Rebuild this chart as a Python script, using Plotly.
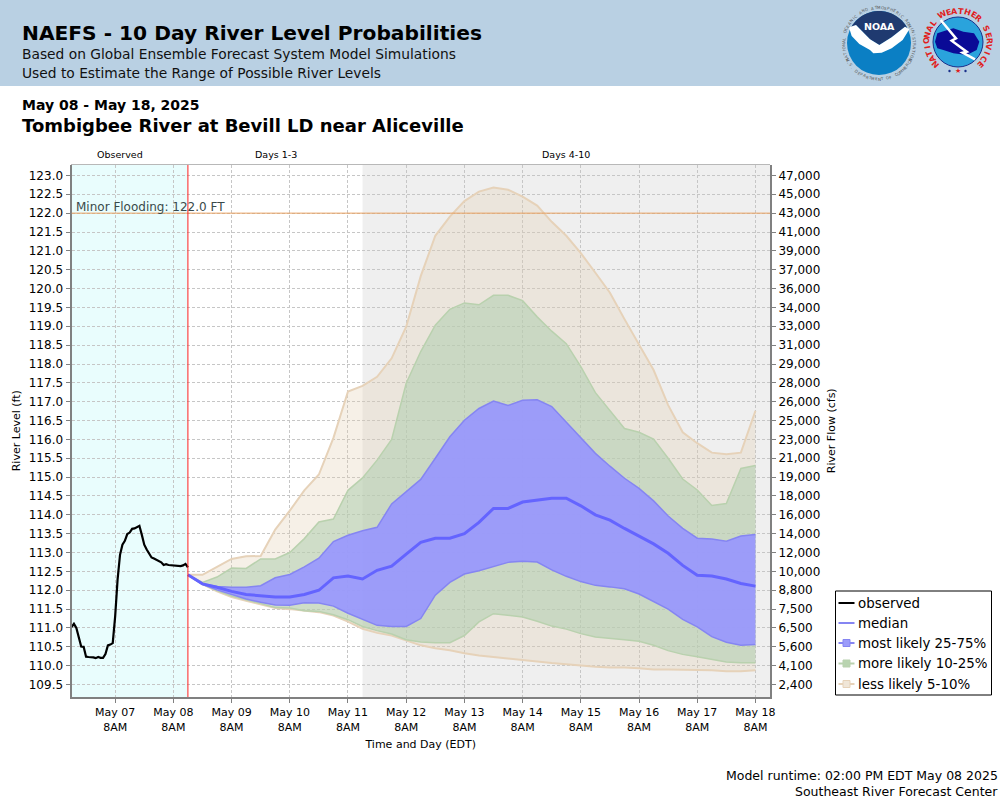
import math

import pandas as pd
from plotly import graph_objs as go

FONT = 'DejaVu Sans'

# river level readings, ft
observed = [111.02, 111.11, 111.0, 110.77, 110.51, 110.5, 110.24, 110.23, 110.23, 110.22,
            110.2, 110.23, 110.21, 110.21, 110.31, 110.54, 110.56, 110.6, 111.31, 112.28,
            112.94, 113.21, 113.31, 113.49, 113.53, 113.63, 113.64, 113.67, 113.71, 113.47,
            113.21, 113.08, 112.96, 112.87, 112.84, 112.8, 112.77, 112.74, 112.67, 112.69,
            112.67, 112.66, 112.66, 112.65, 112.63, 112.64, 112.66, 112.7, 112.61]

median = [112.41, 112.17, 112.08, 111.97, 111.89, 111.85, 111.82, 111.82, 111.89, 112.0,
          112.33, 112.38, 112.3, 112.53, 112.64, 112.96, 113.27, 113.38, 113.38, 113.5,
          113.8, 114.17, 114.17, 114.34, 114.38, 114.44, 114.44, 114.24, 114.0, 113.86,
          113.64, 113.44, 113.23, 112.98, 112.66, 112.4, 112.38, 112.3, 112.18, 112.11]

p75 = [112.41, 112.17, 112.1, 112.08, 112.08, 112.12, 112.33, 112.42, 112.62, 112.85,
       113.29, 113.46, 113.58, 113.67, 114.29, 114.62, 114.94, 115.5, 116.07, 116.51,
       116.82, 117.02, 116.9, 117.04, 117.05, 116.87, 116.45, 116.03, 115.63, 115.29,
       114.97, 114.7, 114.37, 113.97, 113.64, 113.38, 113.36, 113.3, 113.44, 113.48]

p25 = [112.41, 112.16, 112.01, 111.88, 111.77, 111.68, 111.61, 111.6, 111.67, 111.66,
       111.58, 111.39, 111.23, 111.07, 111.04, 111.04, 111.25, 111.87, 112.21, 112.43,
       112.52, 112.62, 112.74, 112.77, 112.75, 112.54, 112.37, 112.23, 112.13, 112.09,
       112.04, 111.9, 111.7, 111.5, 111.23, 111.03, 110.77, 110.62, 110.54, 110.56]

p90 = [112.41, 112.21, 112.35, 112.59, 112.58, 112.83, 112.83, 113.0, 113.37, 113.81,
       113.89, 114.65, 114.98, 115.45, 116.0, 117.49, 118.33, 119.03, 119.45, 119.62,
       119.57, 119.82, 119.82, 119.68, 119.25, 118.87, 118.54, 117.93, 117.24, 116.75,
       116.29, 116.19, 116.01, 115.5, 114.95, 114.66, 114.25, 114.3, 115.23, 115.31]

p10 = [112.41, 112.16, 111.99, 111.85, 111.75, 111.64, 111.54, 111.53, 111.46, 111.44,
       111.35, 111.22, 111.04, 110.93, 110.84, 110.69, 110.63, 110.61, 110.61, 110.8,
       111.16, 111.38, 111.34, 111.29, 111.18, 111.05, 110.97, 110.85, 110.76, 110.73,
       110.69, 110.65, 110.54, 110.4, 110.3, 110.24, 110.16, 110.1, 110.08, 110.08]

p95 = [112.41, 112.41, 112.62, 112.83, 112.9, 112.91, 113.61, 114.11, 114.65, 115.07,
       116.04, 117.27, 117.42, 117.66, 118.15, 118.99, 120.33, 121.4, 121.91, 122.32,
       122.57, 122.68, 122.62, 122.44, 122.2, 121.77, 121.4, 120.94, 120.42, 119.89,
       119.19, 118.5, 117.84, 116.91, 116.19, 115.9, 115.65, 115.61, 115.65, 116.76]

p5 = [112.41, 112.16, 111.97, 111.82, 111.72, 111.62, 111.53, 111.5, 111.46, 111.42,
      111.33, 111.17, 110.98, 110.87, 110.8, 110.67, 110.54, 110.46, 110.41, 110.33,
      110.27, 110.23, 110.19, 110.14, 110.09, 110.07, 110.04, 110.0, 109.97, 109.95,
      109.95, 109.93, 109.9, 109.9, 109.89, 109.88, 109.88, 109.85, 109.85, 109.88]

stage_ticks = [123.0, 122.5, 122.0, 121.5, 121.0, 120.5, 120.0, 119.5, 119.0, 118.5,
               118.0, 117.5, 117.0, 116.5, 116.0, 115.5, 115.0, 114.5, 114.0, 113.5,
               113.0, 112.5, 112.0, 111.5, 111.0, 110.5, 110.0, 109.5]
flow_ticks = ['47,000', '45,000', '43,000', '41,000', '39,000', '37,000', '36,000', '34,000',
              '33,000', '31,000', '29,000', '28,000', '26,000', '25,000', '23,000', '21,000',
              '19,000', '18,000', '16,000', '14,000', '12,000', '10,000', '8,800', '7,500',
              '6,500', '5,600', '4,100', '2,400']
day_ticks = ['May 07', 'May 08', 'May 09', 'May 10', 'May 11', 'May 12',
             'May 13', 'May 14', 'May 15', 'May 16', 'May 17', 'May 18']

flood_stage = 122.0
now = '2025-05-08 14:00'
days4_start = '2025-05-11 14:00'
x_start = '2025-05-06 14:00'
x_end = '2025-05-18 14:00'

obs_times = pd.date_range(x_start, periods=len(observed), freq='h')
fc_times = pd.date_range(now, periods=len(median), freq='6h')
day_vals = pd.date_range('2025-05-07 08:00', periods=len(day_ticks), freq='D')


def px(x):
    return x / 1000


def py(y):
    return 1 - y / 800


def note(x, y, text, size=12, color='black', bold=False, xanchor='left', angle=0):
    if bold:
        text = '<b>' + text + '</b>'
    return dict(xref='paper', yref='paper', x=px(x), y=py(y), text=text, showarrow=False,
                xanchor=xanchor, yanchor='middle', textangle=angle, borderpad=0,
                font=dict(family=FONT, size=size, color=color))


def box(x0, y0, x1, y1, fill, line=None, width=0):
    return dict(type='rect', xref='paper', yref='paper', x0=px(x0), x1=px(x1), y0=py(y0), y1=py(y1),
                fillcolor=fill, line=dict(color=line, width=width), layer='above')


def disc(cx, cy, r, fill, line=None, width=0):
    return dict(type='circle', xref='paper', yref='paper', x0=px(cx - r), x1=px(cx + r),
                y0=py(cy - r), y1=py(cy + r), fillcolor=fill,
                line=dict(color=line, width=width), layer='above')


def poly(points, fill=None, line=None, width=0, closed=True):
    path = 'M' + ' L'.join(f'{px(a):.5f},{py(b):.5f}' for a, b in points)
    if closed:
        path += ' Z'
    shape = dict(type='path', xref='paper', yref='paper', path=path,
                 line=dict(color=line, width=width), layer='above')
    if fill:
        shape['fillcolor'] = fill
    return shape


def zoomed(points):
    # logo outlines were traced on a 3x crop whose corner is at (820, 0)
    return [(820 + a / 3, b / 3) for a, b in points]


def ring_text(text, cx, cy, r, start, end, size, color, bold=False, bottom=False):
    out = []
    step = (end - start) / (len(text) - 1)
    for i, ch in enumerate(text):
        if ch == ' ':
            continue
        t = start + i * step
        a = math.radians(t)
        out.append(note(cx + r * math.sin(a), cy - r * math.cos(a), ch, size=size, color=color,
                        bold=bold, xanchor='center', angle=t - 180 if bottom else t))
    return out


fig = go.Figure()

bands = [
    ('rgba(225,205,175,0.3)', '#e6d2b9', 2, p5, p95),
    ('rgba(175,205,175,0.55)', '#b9d1ae', 1.5, p10, p90),
    ('rgba(151,150,255,0.9)', '#8585f2', 1.5, p25, p75),
]
for fill, edge, edge_w, low, high in bands:
    fig.add_trace(go.Scatter(x=fc_times, y=low, mode='lines', line=dict(color=edge, width=edge_w),
                             showlegend=False, hoverinfo='skip'))
    fig.add_trace(go.Scatter(x=fc_times, y=high, mode='lines', line=dict(color=edge, width=edge_w),
                             fill='tonexty', fillcolor=fill, showlegend=False, hoverinfo='skip'))

fig.add_trace(go.Scatter(x=fc_times, y=median, mode='lines', name='median',
                         line=dict(color='#6464ff', width=3), showlegend=False))
fig.add_trace(go.Scatter(x=obs_times, y=observed, mode='lines', name='observed',
                         line=dict(color='black', width=2.2), showlegend=False))
# flow axis only exists when a trace sits on it
fig.add_trace(go.Scatter(x=[now], y=[flood_stage], yaxis='y2', mode='markers', marker=dict(opacity=0),
                         showlegend=False, hoverinfo='skip'))

shapes = [
    dict(type='rect', xref='x', yref='paper', x0=x_start, x1=now, y0=py(697), y1=py(164.5),
         fillcolor='#e9fdfd', line_width=0, layer='below'),
    dict(type='rect', xref='x', yref='paper', x0=days4_start, x1=x_end, y0=py(697), y1=py(164.5),
         fillcolor='#efefef', line_width=0, layer='below'),
    dict(type='line', xref='x', yref='y', x0=x_start, x1=x_end, y0=flood_stage, y1=flood_stage,
         line=dict(color='#e8a060', width=1), layer='above'),
    dict(type='line', xref='x', yref='paper', x0=now, x1=now, y0=py(697), y1=py(164.5),
         line=dict(color='#ff2020', width=1), layer='above'),
    dict(type='line', xref='paper', yref='paper', x0=px(71), x1=px(770), y0=py(164.5), y1=py(164.5),
         line=dict(color='#b8b8b8', width=1), layer='above'),
    box(0, 0, 1000, 86, '#b9d0e3'),
]

annotations = [
    note(21, 33, 'NAEFS - 10 Day River Level Probabilities', size=20.2, bold=True),
    note(21, 54, 'Based on Global Ensemble Forecast System Model Simulations', size=13.8, color='#111111'),
    note(21, 73, 'Used to Estimate the Range of Possible River Levels', size=13.8, color='#111111'),
    note(21, 105, 'May 08 - May 18, 2025', size=14, bold=True),
    note(21, 126, 'Tombigbee River at Bevill LD near Aliceville', size=18, bold=True),
    note(120, 154, 'Observed', size=9.5, xanchor='center'),
    note(276, 154, 'Days 1-3', size=9.5, xanchor='center'),
    note(566, 154, 'Days 4-10', size=9.5, xanchor='center'),
    note(75, 207, 'Minor Flooding: 122.0 FT', size=12, color='#3a4a4a'),
    note(999, 775, 'Model runtime: 02:00 PM EDT May 08 2025', size=12.5, xanchor='right'),
    note(999, 791, 'Southeast River Forecast Center', size=12.5, xanchor='right'),
]

# legend box drawn by hand, the native one cannot get keys this short
shapes.append(box(835.5, 591, 991.5, 695, 'white', 'black', 1))
key_rows = [
    (603, 'observed', 'black', None),
    (623, 'median', '#8585f2', None),
    (643, 'most likely 25-75%', '#9c9cfa', '#8585f2'),
    (663.5, 'more likely 10-25%', '#b9d4b0', '#b9d1ae'),
    (684, 'less likely 5-10%', '#f0e6d8', '#e6d2b9'),
]
for row_y, label, color, edge in key_rows:
    line_color = edge or color
    shapes.append(dict(type='line', xref='paper', yref='paper', x0=px(838.5), x1=px(854.5),
                       y0=py(row_y), y1=py(row_y), line=dict(color=line_color, width=2), layer='above'))
    if edge:
        shapes.append(box(843, row_y - 3.5, 850, row_y + 3.5, color, edge, 1))
    annotations.append(note(857, row_y, label, size=13.4))

# NOAA logo
noaa_x, noaa_y = 879, 43
shapes.append(disc(noaa_x, noaa_y, 32, '#0b7fc4'))
arc = [(noaa_x + 32 * math.sin(math.radians(t)), noaa_y - 32 * math.cos(math.radians(t))) for t in range(-62, 67, 6)]
wing_top = zoomed([(255, 80), (215, 112), (178, 135), (150, 118), (108, 75)])
shapes.append(poly(arc + wing_top, fill='#1f3a70'))
shapes.append(poly(zoomed([(87, 82), (108, 75), (150, 118), (178, 135), (215, 112), (255, 80), (268, 88),
                           (248, 120), (215, 145), (185, 158), (160, 160), (150, 150), (118, 132), (95, 108)]),
                   fill='white'))
annotations.append(note(noaa_x, 26.5, 'NOAA', size=9.5, color='white', bold=True, xanchor='center'))
annotations += ring_text('NATIONAL OCEANIC AND ATMOSPHERIC ADMINISTRATION', noaa_x, noaa_y, 35.5, -118, 118, 4, '#555555')
annotations += ring_text('U.S. DEPARTMENT OF COMMERCE', noaa_x, noaa_y, 36, 242, 118, 4, '#555555', bottom=True)

# NWS logo
nws_x, nws_y = 958, 42
shapes.append(disc(nws_x, nws_y, 25, '#2aa3dc', '#1a2f8a', 1))
shapes.append(poly(zoomed([(345, 125), (352, 100), (375, 92), (400, 85), (430, 95), (462, 100), (478, 125),
                           (470, 150), (440, 165), (400, 160), (370, 150), (352, 145)]), fill='#0a0a96'))
shapes.append(poly(zoomed([(362, 60), (408, 115), (395, 122), (440, 155), (428, 158), (465, 178)]),
                   line='white', width=2.5, closed=False))
shapes.append(disc(949.5, 71, 1.2, '#1a2f8a'))
shapes.append(disc(965.5, 71, 1.2, '#1a2f8a'))
annotations.append(note(nws_x, 71.5, '★', size=7, color='#e02020', xanchor='center'))
annotations += ring_text('NATIONAL WEATHER SERVICE', nws_x, nws_y, 31, -135, 135, 8, '#e02020', bold=True)

fig.update_layout(
    width=1000, height=800, margin=dict(l=0, r=0, t=0, b=0), autosize=False,
    paper_bgcolor='white', plot_bgcolor='white', showlegend=False,
    font=dict(family=FONT, color='black'),
    shapes=shapes, annotations=annotations,
    xaxis=dict(domain=[px(71.5), px(770)], range=[x_start, x_end], tickmode='array', tickvals=day_vals,
               ticktext=[d + '<br>8AM' for d in day_ticks], tickfont=dict(size=11), ticks='outside',
               ticklen=4, tickcolor='#808080', showgrid=True, gridcolor='#c6c6c6', griddash='3px,2px',
               gridwidth=1, showline=True, linecolor='#808080', linewidth=2, zeroline=False, automargin=False,
               title=dict(text='Time and Day (EDT)', font=dict(size=11), standoff=8)),
    yaxis=dict(domain=[py(697), py(164.5)], range=[109.17, 123.29], tickmode='array', tickvals=stage_ticks,
               ticktext=[f'{v:.1f}' for v in stage_ticks], tickfont=dict(size=12), ticks='outside',
               ticklen=4, tickcolor='#808080', showgrid=True, gridcolor='#c6c6c6', griddash='3px,2px',
               gridwidth=1, showline=True, linecolor='#808080', linewidth=2, zeroline=False, automargin=False,
               title=dict(text='River Level (ft)', font=dict(size=11), standoff=6)),
    yaxis2=dict(domain=[py(697), py(164.5)], range=[109.17, 123.29], overlaying='y', side='right',
                tickmode='array', tickvals=stage_ticks, ticktext=flow_ticks, tickfont=dict(size=12),
                ticks='outside', ticklen=4, tickcolor='#808080', showgrid=False, showline=True,
                linecolor='#808080', linewidth=2, zeroline=False, anchor='x', automargin=False,
                title=dict(text='River Flow (cfs)', font=dict(size=11), standoff=8)),
)

# plotly's page keeps the browser's 8px body margin otherwise
fig.write_html("out.html", config=dict(displayModeBar=False),
               post_script="document.body.style.margin='0';")
